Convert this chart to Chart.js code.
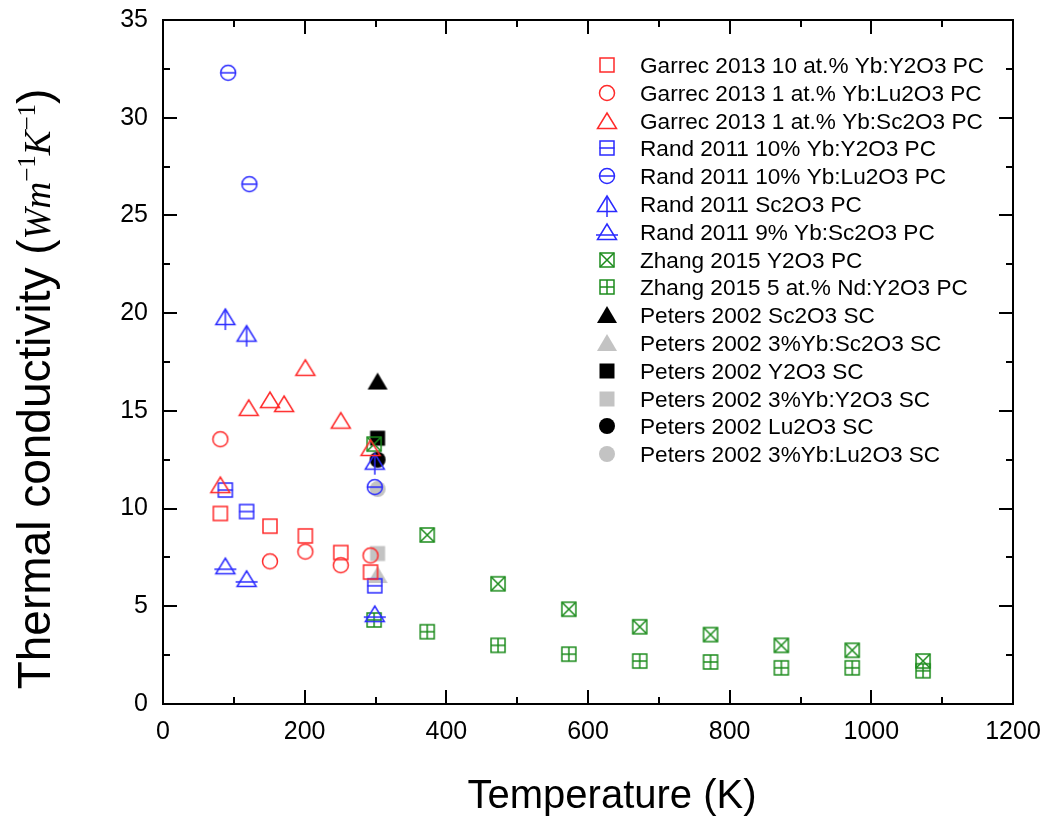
<!DOCTYPE html>
<html>
<head>
<meta charset="utf-8">
<script src="https://cdn.jsdelivr.net/npm/chart.js@4.4.1/dist/chart.umd.min.js"></script>
<style>
  html, body { margin: 0; padding: 0; background: #fff; }
  canvas { display: block; }
</style>
</head>
<body>
<canvas id="chart" width="1050" height="819"></canvas>
<script>
// Temperature (K) and thermal conductivity (W m^-1 K^-1)
const garrecT = [81, 151, 201, 251, 293];
const garrecY2O3 = [9.75, 9.1, 8.6, 7.75, 6.75];
const garrecLu2O3 = [13.55, 7.3, 7.8, 7.1, 7.6];
const garrecScT = [81, 121, 151, 171, 201, 251, 293];
const garrecSc2O3 = [11.2, 15.15, 15.55, 15.35, 17.2, 14.5, 13.1];

const randT = [88, 118, 299];
const randLuT = [92, 122, 299];
const randY2O3 = [10.95, 9.85, 6.05];
const randLu2O3 = [32.3, 26.6, 11.1];
const randSc2O3 = [19.8, 18.95, 12.4];
const randYbSc2O3 = [7.05, 6.4, 4.6];

const zhangT = [298, 373, 473, 573, 673, 773, 873, 973, 1073];
const zhangY2O3 = [13.3, 8.65, 6.15, 4.85, 3.95, 3.55, 3.0, 2.75, 2.2];
const zhangNdY2O3 = [4.3, 3.7, 3.0, 2.55, 2.2, 2.15, 1.85, 1.85, 1.7];

const petersT = [303];
const petersSc2O3 = [16.5];
const petersYbSc2O3 = [6.6];
const petersY2O3 = [13.6];
const petersYbY2O3 = [7.7];
const petersLu2O3 = [12.5];
const petersYbLu2O3 = [11.0];

const xTicks = [0, 200, 400, 600, 800, 1000, 1200];
const yTicks = [0, 5, 10, 15, 20, 25, 30, 35];

const RED = '#ff2a2a', BLUE = '#2a2aff', GREEN = '#1c8c1c', BLACK = '#000', GRAY = '#c3c3c3';

// small canvases used as point styles (Origin-like composite symbols)
function makeMarker(shape, color, filled, deco) {
  const S = 30, c = S / 2;
  const cv = document.createElement('canvas');
  cv.width = S; cv.height = S;
  const ctx = cv.getContext('2d');
  ctx.strokeStyle = color; ctx.fillStyle = color; ctx.lineWidth = 1.5;
  ctx.beginPath();
  if (shape === 'square') {
    const h = filled ? 7.5 : 7;
    ctx.rect(c - h, c - h, 2 * h, 2 * h);
  } else if (shape === 'circle') {
    ctx.arc(c, c, filled ? 8 : 7.5, 0, Math.PI * 2);
  } else {
    const w = filled ? 10 : 9.5, up = filled ? 9 : 8, dn = filled ? 8 : 7.5;
    ctx.moveTo(c, c - up); ctx.lineTo(c + w, c + dn); ctx.lineTo(c - w, c + dn); ctx.closePath();
  }
  if (filled) ctx.fill(); else ctx.stroke();
  ctx.beginPath();
  if (deco === 'h' && shape !== 'triangle') { ctx.moveTo(c - 7.5, c); ctx.lineTo(c + 7.5, c); }
  if (deco === 'h' && shape === 'triangle') { ctx.moveTo(c - 11, c + 3); ctx.lineTo(c + 11, c + 3); }
  if (deco === 'v') { ctx.moveTo(c, c - 8); ctx.lineTo(c, c + 13); }
  if (deco === 'x') { ctx.moveTo(c - 7, c - 7); ctx.lineTo(c + 7, c + 7); ctx.moveTo(c + 7, c - 7); ctx.lineTo(c - 7, c + 7); }
  if (deco === '+') { ctx.moveTo(c - 7, c); ctx.lineTo(c + 7, c); ctx.moveTo(c, c - 7); ctx.lineTo(c, c + 7); }
  ctx.stroke();
  return cv;
}

const series = [
  ['Garrec 2013 10 at.% Yb:Y2O3 PC', garrecT, garrecY2O3, makeMarker('square', RED)],
  ['Garrec 2013 1 at.% Yb:Lu2O3 PC', garrecT, garrecLu2O3, makeMarker('circle', RED)],
  ['Garrec 2013 1 at.% Yb:Sc2O3 PC', garrecScT, garrecSc2O3, makeMarker('triangle', RED)],
  ['Rand 2011 10% Yb:Y2O3 PC', randT, randY2O3, makeMarker('square', BLUE, false, 'h')],
  ['Rand 2011 10% Yb:Lu2O3 PC', randLuT, randLu2O3, makeMarker('circle', BLUE, false, 'h')],
  ['Rand 2011 Sc2O3 PC', randT, randSc2O3, makeMarker('triangle', BLUE, false, 'v')],
  ['Rand 2011 9% Yb:Sc2O3 PC', randT, randYbSc2O3, makeMarker('triangle', BLUE, false, 'h')],
  ['Zhang 2015 Y2O3 PC', zhangT, zhangY2O3, makeMarker('square', GREEN, false, 'x')],
  ['Zhang 2015 5 at.% Nd:Y2O3 PC', zhangT, zhangNdY2O3, makeMarker('square', GREEN, false, '+')],
  ['Peters 2002 Sc2O3 SC', petersT, petersSc2O3, makeMarker('triangle', BLACK, true)],
  ['Peters 2002 3%Yb:Sc2O3 SC', petersT, petersYbSc2O3, makeMarker('triangle', GRAY, true)],
  ['Peters 2002 Y2O3 SC', petersT, petersY2O3, makeMarker('square', BLACK, true)],
  ['Peters 2002 3%Yb:Y2O3 SC', petersT, petersYbY2O3, makeMarker('square', GRAY, true)],
  ['Peters 2002 Lu2O3 SC', petersT, petersLu2O3, makeMarker('circle', BLACK, true)],
  ['Peters 2002 3%Yb:Lu2O3 SC', petersT, petersYbLu2O3, makeMarker('circle', GRAY, true)],
];

const datasets = series.map(([label, t, k, marker]) => ({
  label,
  data: t.map((x, i) => ({ x, y: k[i] })),
  pointStyle: marker,
  pointRadius: 8,
  pointHoverRadius: 8,
}));

const SANS = '"Liberation Sans", Arial, sans-serif';
const SERIF = '"Liberation Serif", serif';

// frame with inward major/minor ticks on all four sides
const framePlugin = {
  id: 'frame',
  beforeDatasetsDraw(chart) {
    const { ctx, chartArea: a, scales: { x, y } } = chart;
    ctx.save();
    ctx.strokeStyle = '#000';
    ctx.lineWidth = 2;
    ctx.strokeRect(a.left, a.top, a.right - a.left, a.bottom - a.top);
    ctx.beginPath();
    for (let v = 0; v <= 1200; v += 100) {
      const px = Math.round(x.getPixelForValue(v));
      const len = v % 200 === 0 ? 14 : 7;
      ctx.moveTo(px, a.bottom); ctx.lineTo(px, a.bottom - len);
      ctx.moveTo(px, a.top); ctx.lineTo(px, a.top + len);
    }
    for (let v = 0; v <= 35; v += 2.5) {
      const py = Math.round(y.getPixelForValue(v));
      const len = v % 5 === 0 ? 14 : 7;
      ctx.moveTo(a.left, py); ctx.lineTo(a.left + len, py);
      ctx.moveTo(a.right, py); ctx.lineTo(a.right - len, py);
    }
    ctx.stroke();
    ctx.restore();
  }
};

// axis titles (y title has italic units with superscripts)
const titlePlugin = {
  id: 'titles',
  afterDraw(chart) {
    const { ctx } = chart;
    ctx.save();
    ctx.fillStyle = '#000';
    ctx.font = '40px ' + SANS;
    ctx.textAlign = 'center';
    ctx.textBaseline = 'alphabetic';
    ctx.fillText('Temperature (K)', 612, 808);

    const parts = [
      ['Thermal conductivity (', '46px ' + SANS, 0],
      ['W', 'italic 37px ' + SERIF, 0],
      ['m', 'italic 37px ' + SERIF, 0],
      ['\u22121', '25px ' + SERIF, -15],
      ['K', 'italic 37px ' + SERIF, 0],
      ['\u22121', '25px ' + SERIF, -15],
      [')', '46px ' + SANS, 0],
    ];
    let total = 0;
    parts.forEach(p => { ctx.font = p[1]; total += ctx.measureText(p[0]).width; });
    ctx.translate(50, 389);
    ctx.rotate(-Math.PI / 2);
    ctx.textAlign = 'left';
    let cx = -total / 2;
    parts.forEach(([s, f, dy]) => {
      ctx.font = f;
      ctx.fillText(s, cx, dy);
      cx += ctx.measureText(s).width;
    });
    ctx.restore();
  }
};

// inset legend in the upper right of the plot
const legendPlugin = {
  id: 'insetLegend',
  afterDraw(chart) {
    const { ctx } = chart;
    ctx.save();
    ctx.font = '22.6px ' + SANS;
    ctx.fillStyle = '#000';
    ctx.textBaseline = 'alphabetic';
    chart.data.datasets.forEach((ds, i) => {
      const cy = 65 + i * 27.8;
      const m = ds.pointStyle;
      ctx.drawImage(m, Math.round(607 - m.width / 2), Math.round(cy - m.height / 2));
      ctx.fillText(ds.label, 640, cy + 8);
    });
    ctx.restore();
  }
};

new Chart(document.getElementById('chart'), {
  type: 'scatter',
  data: { datasets },
  options: {
    responsive: false,
    animation: false,
    layout: { padding: { left: 0, top: 20, right: 37, bottom: 0 } },
    plugins: {
      legend: { display: false },
      tooltip: { enabled: false },
    },
    scales: {
      x: {
        type: 'linear', min: 0, max: 1200,
        afterBuildTicks: s => { s.ticks = xTicks.map(v => ({ value: v })); },
        afterFit: s => { s.height = 115; s.paddingLeft = 0; s.paddingRight = 0; },
        grid: { display: false, drawTicks: false },
        border: { display: false },
        ticks: { color: '#000', padding: 13, maxRotation: 0, callback: v => String(v), font: { family: SANS, size: 25 } },
      },
      y: {
        type: 'linear', min: 0, max: 35,
        afterBuildTicks: s => { s.ticks = yTicks.map(v => ({ value: v })); },
        afterFit: s => { s.width = 163; s.paddingTop = 0; s.paddingBottom = 0; },
        grid: { display: false, drawTicks: false },
        border: { display: false },
        ticks: { color: '#000', padding: 15, callback: v => String(v), font: { family: SANS, size: 25 } },
      },
    },
  },
  plugins: [framePlugin, titlePlugin, legendPlugin],
});
</script>
</body>
</html>
